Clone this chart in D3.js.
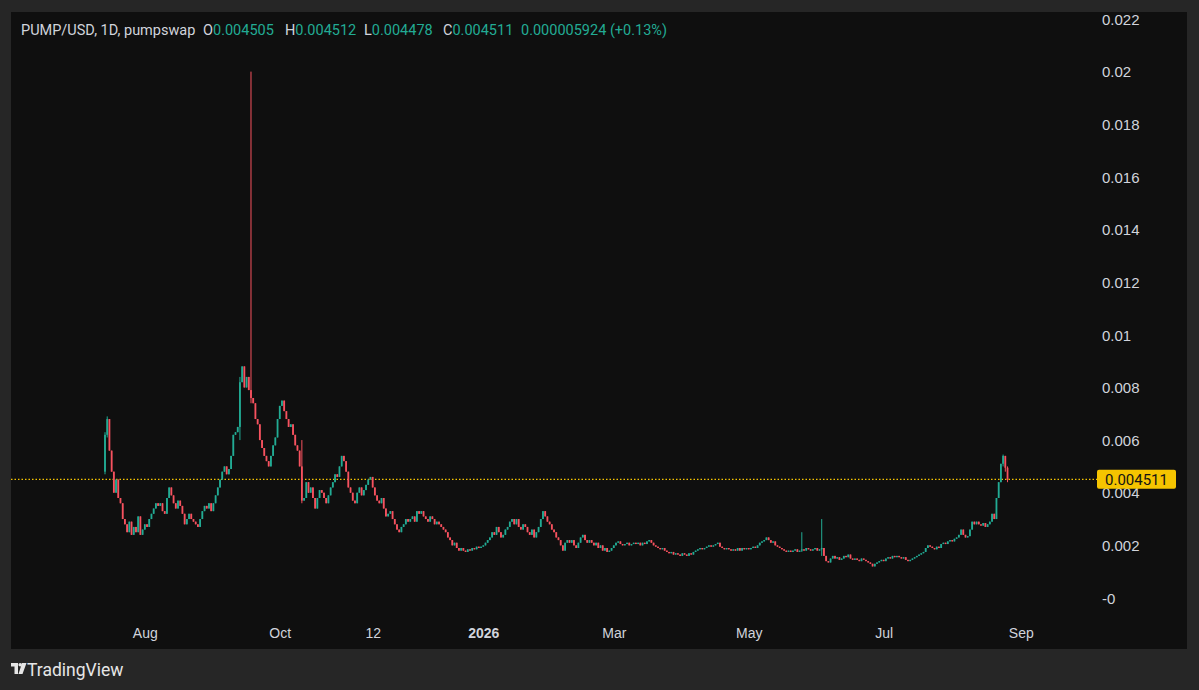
<!DOCTYPE html>
<html>
<head>
<meta charset="utf-8">
<script src="https://cdn.jsdelivr.net/npm/d3@7"></script>
<style>
  html, body { margin: 0; padding: 0; background: #262626; }
  svg { display: block; font-family: Roboto, "Noto Sans", sans-serif; }
</style>
</head>
<body>
<div id="chart"></div>
<script>
// daily closes, in units of 0.0001 USD, starting 2025-07-14
var startDate = "2025-07-14";
var firstOpen = 48;
var closes = [
  62, 68, 56, 48, 40, 45, 38, 36, 30, 28,
  25, 29, 24, 27, 25, 31, 24, 26, 28, 27,
  30, 32, 34, 36, 35, 36, 33, 32, 38, 42,
  39, 36, 34, 37, 35, 32, 28, 30, 32, 30,
  29, 28, 27, 30, 33, 35, 34, 36, 33, 36,
  39, 42, 45, 48, 50, 47, 49, 54, 62, 63,
  65, 82, 88, 80, 84, 79, 76, 74, 68, 66,
  60, 57, 54, 52, 50, 54, 58, 61, 68, 73,
  75, 71, 68, 65, 66, 62, 58, 56, 50, 37,
  38, 44, 40, 42, 38, 34, 38, 41, 40, 38,
  36, 39, 42, 44, 47, 46, 50, 54, 52, 48,
  42, 40, 37, 36, 40, 42, 39, 41, 43, 45,
  46, 42, 39, 37, 36, 38, 34, 31, 32, 33,
  30, 28, 26, 25, 27, 28, 30, 29, 30, 31,
  29, 33, 32, 33, 31, 30, 29, 31, 30, 28,
  29, 28, 27, 26, 25, 23, 22, 20, 21, 19,
  18, 19, 18, 17.5, 18.5, 18, 19, 18.5, 19.5, 19,
  19.5, 20, 21, 22, 23, 25, 24, 27, 25, 23,
  24, 26, 27, 29, 30, 28, 30, 27, 26, 28,
  27, 25, 24, 26, 23, 25, 27, 30, 33, 31,
  29, 28, 26, 25, 23, 22, 20, 18, 21, 22,
  21, 22, 20, 19, 21, 23, 24, 22, 21, 22,
  21, 20, 21, 19, 20, 18, 19, 17.5, 18, 19,
  20, 21, 21.5, 20.5, 20, 20.5, 21, 20, 20.5, 21,
  20.5, 21, 20, 21, 20.5, 21.5, 22, 21, 20, 19.5,
  19, 18.5, 19, 18, 17.5, 17, 17.5, 16.5, 17, 16.5,
  16, 17, 16.5, 16, 17, 16.5, 17.5, 18, 18.5, 19,
  18.5, 19, 19.5, 20, 19.5, 20, 20.5, 21, 19.5, 19,
  18.5, 19, 18.5, 18, 18.5, 18, 19, 18, 19, 18.5,
  19, 18.5, 19, 19.5, 19, 20, 21, 21.5, 22, 23,
  22, 21, 21.5, 20, 19.5, 19, 18.5, 18, 17.5, 18,
  17.5, 18, 18.5, 17.5, 18, 18.5, 18, 19, 18.5, 18,
  18.5, 19, 18, 18.5, 19, 16, 14, 13.5, 15, 16,
  15, 15.5, 14.5, 15, 16, 15.5, 16.5, 15, 14.5, 15,
  14.5, 14, 15, 14.5, 14, 13.5, 13, 12, 13, 13.5,
  14, 14.5, 14, 15, 15.5, 15, 16, 15.5, 16, 15.5,
  15, 15.5, 14.5, 14, 14.5, 15, 15.5, 16, 16.5, 17,
  17.5, 19, 20, 19.5, 19, 18.5, 19.5, 19, 20.5, 21,
  20.5, 21.5, 22, 21.5, 22.5, 23, 24, 26, 24, 23,
  23.5, 26, 29, 28, 29, 28, 27.5, 28.5, 27, 28,
  29, 32, 30, 38, 44, 51, 54, 49.5, 45.11
];
// days with visible wicks beyond the body (same units)
var wickDay  = [0,  1,  61, 66,  89, 315, 324, 406,  407, 408];
var wickHigh = [63, 69, 84, 200, 60, 25,  30,  54.5, 52,  50];
var wickLow  = [47, 61, 60, 74,  36, 17.5, 16, 50,   48,  44];
var UNIT = 0.0001;
var lastPrice = 0.004511;

var yTicks = [0, 0.002, 0.004, 0.006, 0.008, 0.01, 0.012, 0.014, 0.016, 0.018, 0.02, 0.022];
var yTickLabels = ["-0", "0.002", "0.004", "0.006", "0.008", "0.01", "0.012", "0.014", "0.016", "0.018", "0.02", "0.022"];
var xTickDates = ["2025-08-01", "2025-10-01", "2025-11-12", "2026-01-01", "2026-03-01", "2026-05-01", "2026-07-01", "2026-09-01"];
var xTickLabels = ["Aug", "Oct", "12", "2026", "Mar", "May", "Jul", "Sep"];

// legend pieces: label letter + value
var headerTitle = "PUMP/USD, 1D, pumpswap";
var headerKeys = ["O", "H", "L", "C", ""];
var headerValues = ["0.004505", "0.004512", "0.004478", "0.004511", "0.000005924 (+0.13%)"];
var headerX = [203, 285, 364, 443, 521];

var svgWidth = 1199, svgHeight = 690;
var upColor = "#22ab94", downColor = "#f7525f";

// build OHLC rows
var parse = d3.timeParse("%Y-%m-%d");
var t0 = parse(startDate);
var candles = closes.map(function (c, i) {
  var o = i === 0 ? firstOpen : closes[i - 1];
  var row = { date: d3.timeDay.offset(t0, i), open: o * UNIT, close: c * UNIT,
              high: Math.max(o, c) * UNIT, low: Math.min(o, c) * UNIT };
  var k = wickDay.indexOf(i);
  if (k >= 0) {
    row.high = Math.max(row.high, wickHigh[k] * UNIT);
    row.low = Math.min(row.low, wickLow[k] * UNIT);
  }
  return row;
});

var svg = d3.select("#chart").append("svg")
  .attr("width", svgWidth)
  .attr("height", svgHeight);

svg.append("rect").attr("width", svgWidth).attr("height", svgHeight).attr("fill", "#262626");
svg.append("rect")
  .attr("x", 11).attr("y", 12)
  .attr("width", 1176).attr("height", 637)
  .attr("fill", "#0f0f0f");

// scales
var x = d3.scaleTime()
  .domain([t0, parse("2026-09-01")])
  .range([105, 1020.8]);

var y = d3.scaleLinear()
  .domain([0, 0.022])
  .range([598, 19]);

// y labels on the right
var yAxis = d3.axisRight(y)
  .tickValues(yTicks)
  .tickSize(0)
  .tickPadding(0)
  .tickFormat(function (d, i) { return yTickLabels[i]; });

var yG = svg.append("g")
  .attr("transform", "translate(1102,0)")
  .call(yAxis);
yG.select(".domain").remove();
yG.selectAll("text")
  .attr("fill", "#d1d4dc")
  .style("font-size", "15px")
  .attr("dy", "0.35em");

// x labels
var xAxis = d3.axisBottom(x)
  .tickValues(xTickDates.map(parse))
  .tickSize(0)
  .tickPadding(0)
  .tickFormat(function (d, i) { return xTickLabels[i]; });

var xG = svg.append("g")
  .attr("transform", "translate(0,628)")
  .call(xAxis);
xG.select(".domain").remove();
xG.selectAll("text")
  .attr("fill", "#d1d4dc")
  .style("font-size", "14px")
  .attr("dy", "0.71em")
  .style("font-weight", function (d, i) { return xTickLabels[i] === "2026" ? "700" : "400"; });

// last price line
svg.append("line")
  .attr("x1", 11).attr("x2", 1097)
  .attr("y1", y(lastPrice)).attr("y2", y(lastPrice))
  .attr("stroke", "#f5c400")
  .attr("stroke-width", 1.2)
  .attr("stroke-dasharray", "1.5,2");

// candles
var cg = svg.append("g");
cg.selectAll("line.wick")
  .data(candles)
  .enter()
  .append("line")
  .attr("class", "wick")
  .attr("x1", d => x(d.date)).attr("x2", d => x(d.date))
  .attr("y1", d => y(d.high)).attr("y2", d => y(d.low))
  .attr("stroke", d => d.close >= d.open ? upColor : downColor)
  .attr("stroke-width", 1);

cg.selectAll("rect.body")
  .data(candles)
  .enter()
  .append("rect")
  .attr("class", "body")
  .attr("x", d => x(d.date) - 0.9)
  .attr("width", 1.8)
  .attr("y", d => y(Math.max(d.open, d.close)))
  .attr("height", d => Math.max(1, y(Math.min(d.open, d.close)) - y(Math.max(d.open, d.close))))
  .attr("fill", d => d.close >= d.open ? upColor : downColor);

// last price tag (sits over the 0.004 label, as in TradingView)
var tag = svg.append("g").attr("transform", "translate(1097," + y(lastPrice) + ")");
tag.append("rect")
  .attr("x", 0).attr("y", -9.5)
  .attr("width", 79).attr("height", 19)
  .attr("rx", 2)
  .attr("fill", "#f5c400");
tag.append("text")
  .attr("x", 8).attr("dy", "0.36em")
  .attr("fill", "#131313")
  .style("font-size", "15px")
  .text(d3.format(".6f")(lastPrice));

// header line
svg.append("text")
  .attr("x", 21).attr("y", 35)
  .attr("fill", "#d1d4dc")
  .style("font-size", "14.5px")
  .text(headerTitle);

headerKeys.forEach(function (k, i) {
  var t = svg.append("text")
    .attr("x", headerX[i]).attr("y", 35)
    .style("font-size", "14.5px");
  t.append("tspan").attr("fill", "#d1d4dc").text(k);
  t.append("tspan").attr("fill", upColor).text(headerValues[i]);
});

// TradingView footer
var logo = svg.append("g").attr("transform", "translate(11,663)");
logo.append("path")
  .attr("d", "M0 0 H7 V11 H3.5 V3.5 H0 Z M11 0 H15.5 L11.5 11 H7.5 Z")
  .attr("fill", "#e6e6e6");
logo.append("circle").attr("cx", 9.2).attr("cy", 1.8).attr("r", 1.8).attr("fill", "#e6e6e6");
svg.append("text")
  .attr("x", 27).attr("y", 676)
  .attr("fill", "#e6e6e6")
  .style("font-size", "17.5px")
  .style("font-weight", "400")
  .text("TradingView");
</script>
</body>
</html>
